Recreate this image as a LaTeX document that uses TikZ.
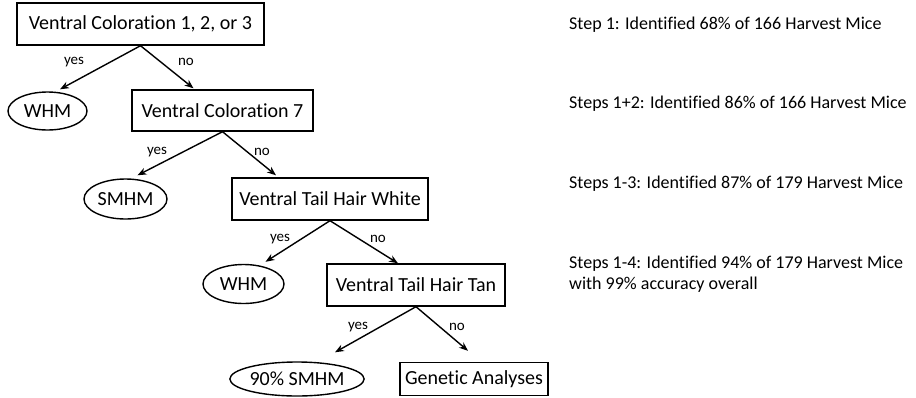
\documentclass[tikz,border=0pt]{standalone}
\usepackage{fontspec}
\setmainfont{Carlito}[Ligatures=NoCommon]
\usetikzlibrary{shapes.geometric,arrows.meta}
\begin{document}
\begin{tikzpicture}[x=1pt,y=-1pt,
  box/.style={draw,line width=1.4pt,inner sep=0pt,font=\fontsize{20}{24}\selectfont},
  oval/.style={draw,ellipse,line width=1.4pt,inner sep=0pt,font=\fontsize{20}{24}\selectfont},
  arr/.style={line width=1.4pt,-{Stealth[length=9pt,width=7pt]}},
  lab/.style={font=\fontsize{15}{18}\selectfont,inner sep=0pt},
  note/.style={font=\fontsize{18}{21.5}\selectfont,inner sep=0pt,anchor=west,align=left}]
\useasboundingbox (0,0) rectangle (916,397);
% nodes
\node[box,minimum width=247pt,minimum height=42pt] (b1) at (140.5,24) {Ventral Coloration 1, 2, or 3};
\node[oval,minimum width=79pt,minimum height=38pt] (w1) at (47.5,111) {WHM};
\node[box,minimum width=181pt,minimum height=41pt] (b2) at (222.5,110.5) {Ventral Coloration 7};
\node[oval,minimum width=83pt,minimum height=40pt] (s1) at (125.5,199) {SMHM};
\node[box,minimum width=196pt,minimum height=42pt] (b3) at (330,199) {Ventral Tail Hair White};
\node[oval,minimum width=81pt,minimum height=39pt] (w2) at (243.5,284) {WHM};
\node[box,minimum width=178pt,minimum height=42pt] (b4) at (416,285) {Ventral Tail Hair Tan};
\node[oval,minimum width=124pt,minimum height=34pt] (s2) at (297,379) {90\% SMHM};
\node[box,minimum width=148pt,minimum height=33pt] (g) at (474,379) {Genetic Analyses};
% connectors
\draw[arr] (b1.south) -- ([xshift=12.5pt,yshift=2pt]w1.north);
\draw[arr] (b1.south) -- ([xshift=-29pt,yshift=1pt]b2.north);
\draw[arr] (b2.south) -- ([xshift=12pt,yshift=3pt]s1.north);
\draw[arr] (b2.south) -- ([xshift=-54pt,yshift=2pt]b3.north);
\draw[arr] (b3.south) -- ([xshift=22pt,yshift=2pt]w2.north);
\draw[arr] (b3.south) -- ([xshift=-18pt]b4.north);
\draw[arr] (b4.south) -- ([xshift=38pt,yshift=9pt]s2.north);
\draw[arr] (b4.south) -- ([xshift=-6pt,yshift=11pt]g.north);
% labels
\node[lab] (y1) at (74,62) {yes};
\node[lab] (n1) at (186,62) {no};
\node[lab] (y2) at (157,152) {yes};
\node[lab] (n2) at (262,152) {no};
\node[lab] (y3) at (280,239) {yes};
\node[lab] (n3) at (378,239) {no};
\node[lab] (y4) at (358,327) {yes};
\node[lab] (n4) at (457,327) {no};
% notes
\node[note] (t1) at (569,25) {Step 1: Identified 68\% of 166 Harvest Mice};
\node[note] (t2) at (569,104) {Steps 1+2: Identified 86\% of 166 Harvest Mice};
\node[note] (t3) at (569,184) {Steps 1-3: Identified 87\% of 179 Harvest Mice};
\node[note] (t4) at (569,274) {Steps 1-4: Identified 94\% of 179 Harvest Mice\\with 99\% accuracy overall};
\end{tikzpicture}
\end{document}
